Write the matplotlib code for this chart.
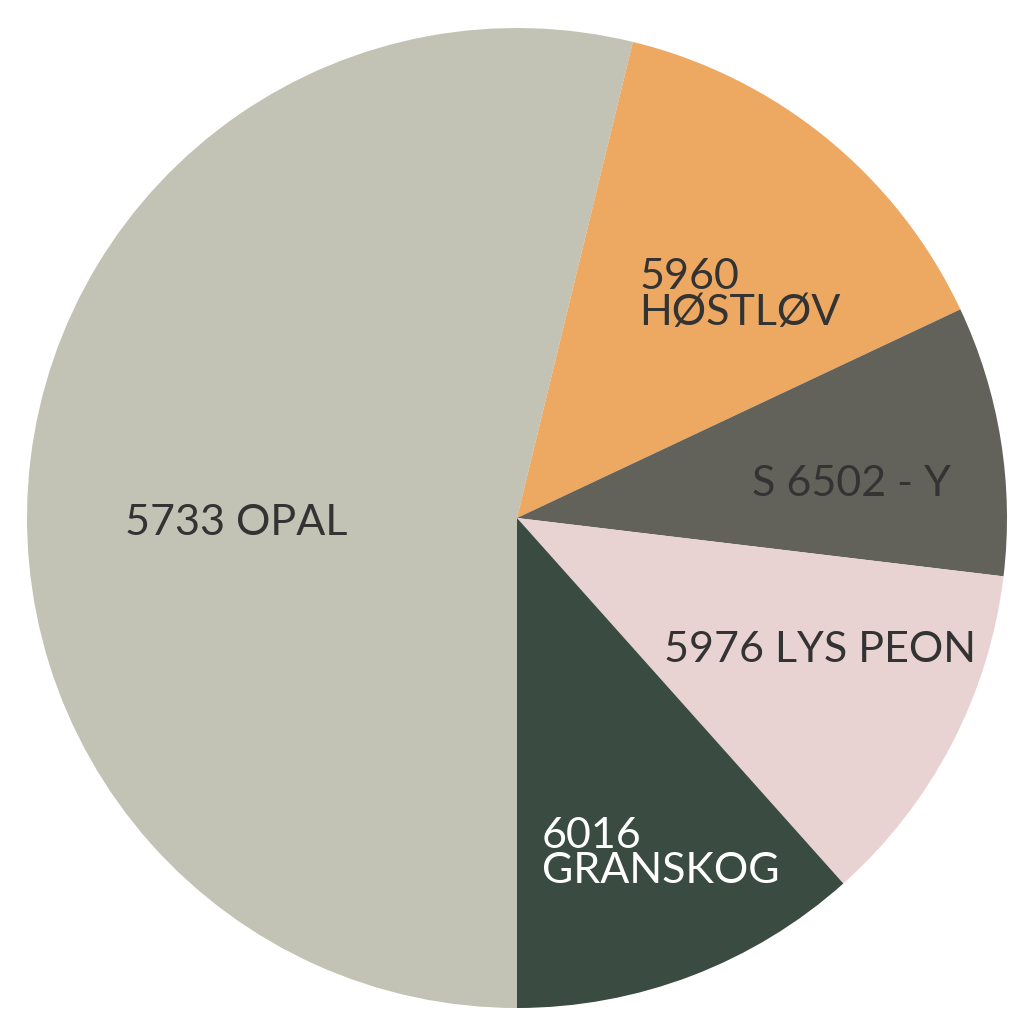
import matplotlib
matplotlib.use("Agg")
import matplotlib.pyplot as plt

# slice shares (percent), clockwise from the bottom
names = ["5733 OPAL", "5960\nHØSTLØV", "S 6502 - Y", "5976 LYS PEON", "6016\nGRANSKOG"]
shares = [53.8, 14.2, 8.9, 11.5, 11.6]
colors = ["#C2C3B4", "#EDA862", "#63625A", "#E8D3D2", "#3A4B41"]
text_colors = ["#333333", "#333333", "#333333", "#333333", "#FFFFFF"]

# label anchors (left edge, vertical centre) in data units, radius = 1
label_pos = [(-0.80, -0.01), (0.25, 0.455), (0.48, 0.07), (0.30, -0.27), (0.05, -0.685)]

plt.rcParams["font.family"] = ["Lato", "DejaVu Sans"]

fig = plt.figure(figsize=(10.33, 10.33), dpi=100)
ax = fig.add_axes([0, 0, 1, 1])

ax.pie(shares, colors=colors, startangle=-90, counterclock=False,
       radius=1.0, center=(0, 0), wedgeprops={"linewidth": 0})

for name, (x, y), tc in zip(names, label_pos, text_colors):
    ax.text(x, y, name, ha="left", va="center", fontsize=31, color=tc,
            linespacing=0.92)

r_px = 490.0
ax.set_xlim(-517 / r_px, (1033 - 517) / r_px)
ax.set_ylim(-(1033 - 518) / r_px, 518 / r_px)
ax.set_aspect("auto")
ax.axis("off")

fig.savefig("out.png", dpi=100, facecolor="white")
